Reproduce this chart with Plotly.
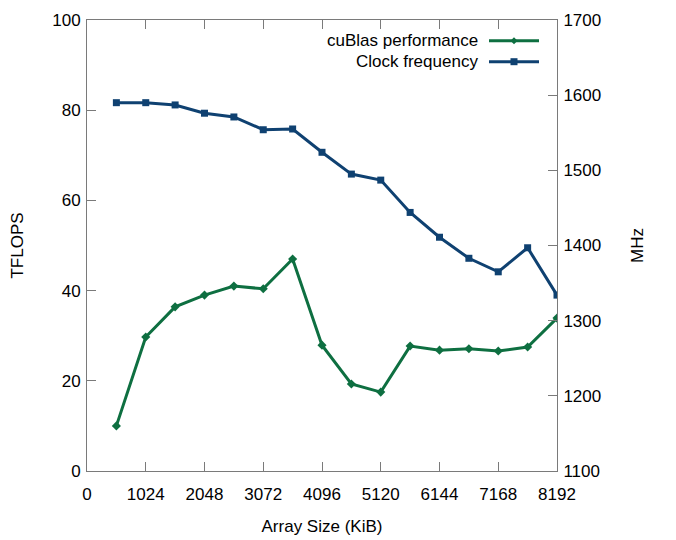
import plotly.graph_objects as go

array_size_kib = [512, 1024, 1536, 2048, 2560, 3072, 3584, 4096, 4608, 5120,
                  5632, 6144, 6656, 7168, 7680, 8192]
tflops = [10.0, 29.7, 36.4, 39.0, 41.0, 40.4, 47.0, 27.9, 19.3, 17.5,
          27.7, 26.8, 27.1, 26.6, 27.5, 33.9]
clock_mhz = [1590, 1590, 1587, 1576, 1571, 1554, 1555, 1524, 1495, 1487,
             1444, 1411, 1383, 1365, 1397, 1334]
x_ticks = [0, 1024, 2048, 3072, 4096, 5120, 6144, 7168, 8192]
left_ticks = [0, 20, 40, 60, 80, 100]
right_ticks = [1100, 1200, 1300, 1400, 1500, 1600, 1700]

GREEN = "#0e6f41"
BLUE = "#0f4171"
AXIS = "#7a7a7a"
FONT = "Liberation Sans, Arial, sans-serif"
FS = 17
TITLE_FONT = dict(family=FONT, size=FS, color="black")

# plot area in page pixels (page has an 8px body margin)
L, T, W, H = 79, 12, 470, 451

fig = go.Figure()
fig.add_trace(go.Scatter(
    x=array_size_kib, y=tflops, mode="lines+markers", name="cuBlas performance",
    line=dict(color=GREEN, width=3), marker=dict(symbol="diamond", size=7, color=GREEN),
    yaxis="y", showlegend=False))
fig.add_trace(go.Scatter(
    x=array_size_kib, y=clock_mhz, mode="lines+markers", name="Clock frequency",
    line=dict(color=BLUE, width=3), marker=dict(symbol="square", size=7, color=BLUE),
    yaxis="y2", showlegend=False))

common = dict(showgrid=False, zeroline=False, showline=True, linecolor=AXIS, linewidth=1,
              ticks="inside", ticklen=9, tickcolor=AXIS, tickwidth=1, automargin=False,
              tickfont=dict(family=FONT, size=FS, color="black"))

fig.update_layout(
    width=676, height=540,
    margin=dict(l=L, r=676 - L - W, t=T, b=540 - T - H),
    paper_bgcolor="white", plot_bgcolor="white",
    font=dict(family=FONT, size=FS, color="black"),
    xaxis=dict(range=[0, 8192], tickvals=x_ticks, ticktext=[str(v) for v in x_ticks],
               mirror="ticks", ticklabelstandoff=8,
               title=dict(text="Array Size (KiB)", standoff=16, font=TITLE_FONT), **common),
    yaxis=dict(range=[0, 100], tickvals=left_ticks, ticklabelstandoff=2,
               title=dict(text="TFLOPS", standoff=29, font=TITLE_FONT), **common),
    yaxis2=dict(range=[1100, 1700], tickvals=right_ticks, overlaying="y", side="right",
                ticklabelstandoff=2,
                title=dict(text="MHz", standoff=30, font=TITLE_FONT), **common),
)

# gnuplot-style key: text right-aligned, sample to the right
legend_items = [("cuBlas performance", GREEN, "diamond"), ("Clock frequency", BLUE, "square")]
row_y = [40.7 - 8, 61.7 - 8]
for (label, color, sym), py in zip(legend_items, row_y):
    yp = 1 - (py - T) / H
    fig.add_annotation(xref="paper", yref="paper", x=(480 - 8 - L) / W, y=yp,
                       text=label, showarrow=False, xanchor="right", yanchor="middle",
                       font=dict(family=FONT, size=FS, color="black"))
    x0 = (489 - 8 - L) / W
    x1 = (539 - 8 - L) / W
    fig.add_shape(type="line", xref="paper", yref="paper", x0=x0, x1=x1, y0=yp, y1=yp,
                  line=dict(color=color, width=3))
    xm = (514 - 8 - L) / W
    dx = 3.5 / W
    dy = 3.5 / H
    if sym == "square":
        fig.add_shape(type="rect", xref="paper", yref="paper", x0=xm - dx, x1=xm + dx,
                      y0=yp - dy, y1=yp + dy, line=dict(width=0), fillcolor=color)
    else:
        fig.add_shape(type="path", xref="paper", yref="paper",
                      path=f"M {xm - dx} {yp} L {xm} {yp + dy} L {xm + dx} {yp} L {xm} {yp - dy} Z",
                      line=dict(width=0), fillcolor=color)

fig.write_html("out.html")
